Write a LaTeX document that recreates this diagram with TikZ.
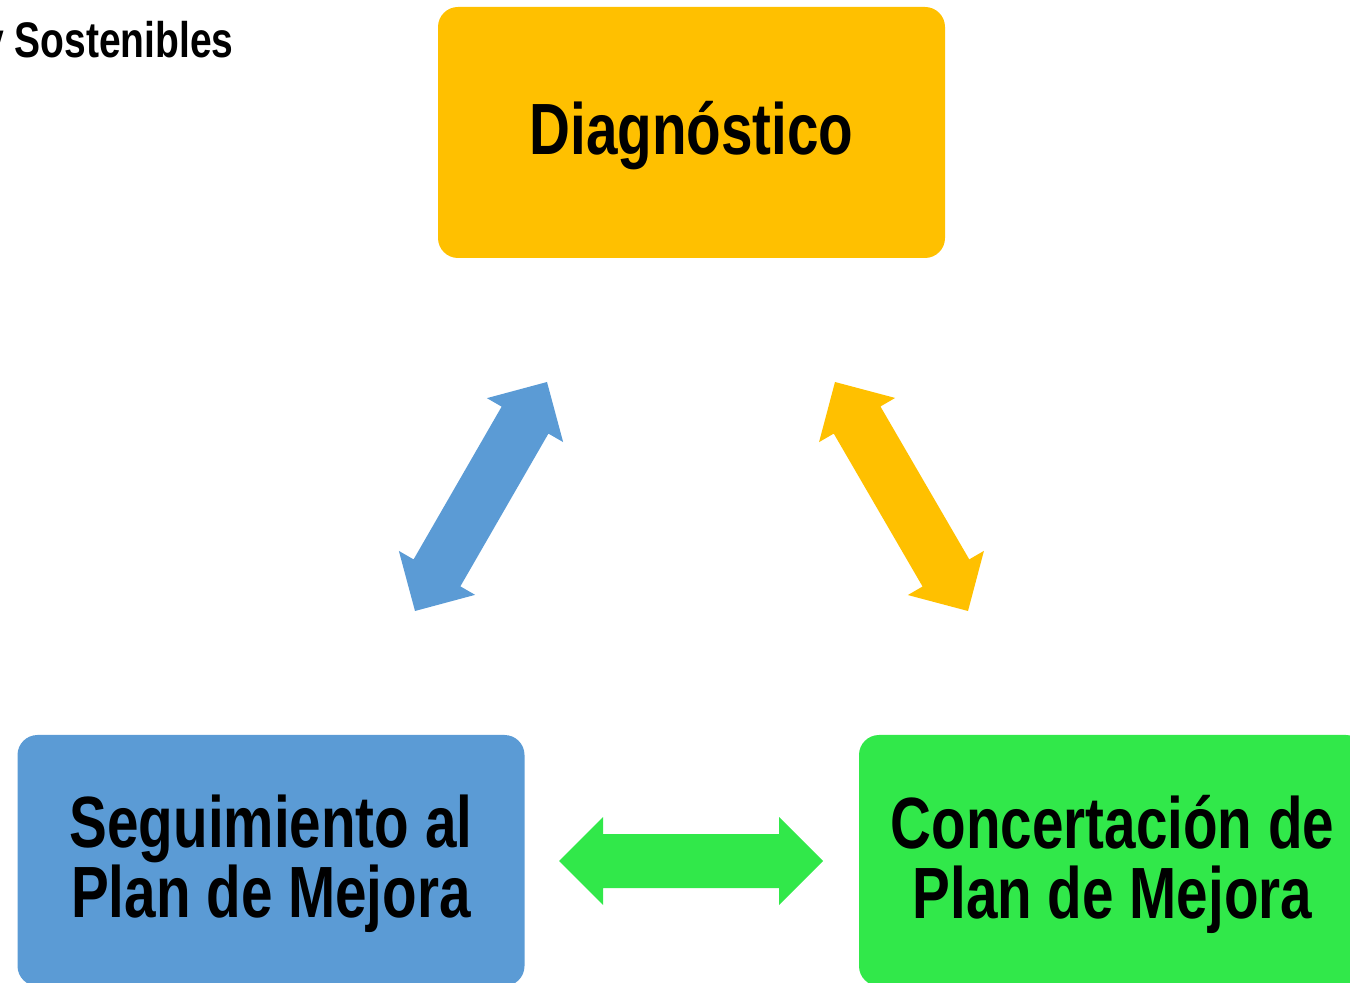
\documentclass[tikz,border=0pt]{standalone}
\usepackage{fontspec}
\setmainfont{Liberation Sans}[FakeStretch=0.78]
\usetikzlibrary{calc}
\definecolor{orangeY}{HTML}{FFC000}
\definecolor{blueB}{HTML}{5B9BD5}
\definecolor{greenG}{HTML}{31E84A}
\tikzset{
  box/.style={rounded corners=10pt, minimum width=253.5pt, minimum height=125.5pt,
    inner sep=0pt},
  boxtext/.style={inner sep=0pt, align=center, font=\bfseries\fontsize{36.3}{35}\selectfont},
}
\newcommand\twoway[3]{%
  \coordinate (#1h) at ($(#1)!22pt!(#2)$);
  \coordinate (#2h) at ($(#2)!22pt!(#1)$);
  \fill[#3] (#1) -- ($(#1h)!22pt!90:(#1)$) -- ($(#1h)!13.5pt!90:(#1)$)
    -- ($(#2h)!13.5pt!-90:(#2)$) -- ($(#2h)!22pt!-90:(#2)$) -- (#2)
    -- ($(#2h)!22pt!90:(#2)$) -- ($(#2h)!13.5pt!90:(#2)$)
    -- ($(#1h)!13.5pt!-90:(#1)$) -- ($(#1h)!22pt!-90:(#1)$) -- cycle;}
\begin{document}
\begin{tikzpicture}[x=0.5pt,y=-0.5pt]
\useasboundingbox (0,0) rectangle (1350,983);
\clip (0,0) rectangle (1350,983);
\node[anchor=base east, font=\bfseries\fontsize{25}{30}\selectfont, inner sep=0pt] (title) at (234,58) {y Sostenibles};
\node[box, fill=orangeY] (diag) at (691.5,132.5) {};
\node[boxtext] (diagT) at ([yshift=-1.5pt]diag.center) {Diagnóstico};
\node[box, fill=blueB] (seg) at (271,860.5) {};
\node[boxtext] (segT) at ([yshift=-1.8pt]seg.center) {Seguimiento al\\Plan de Mejora};
\node[box, fill=greenG] (conc) at (1112.5,860.5) {};
\node[boxtext] (concT) at ([yshift=-1.8pt]conc.center) {Concertación de\\Plan de Mejora};
\coordinate (bA) at (547,382);
\coordinate (bB) at (415,611);
\coordinate (oA) at (835,382);
\coordinate (oB) at (968,611);
\coordinate (gA) at (559,861);
\coordinate (gB) at (823,861);
\twoway{bA}{bB}{blueB}
\twoway{oA}{oB}{orangeY}
\twoway{gA}{gB}{greenG}
\end{tikzpicture}
\end{document}
